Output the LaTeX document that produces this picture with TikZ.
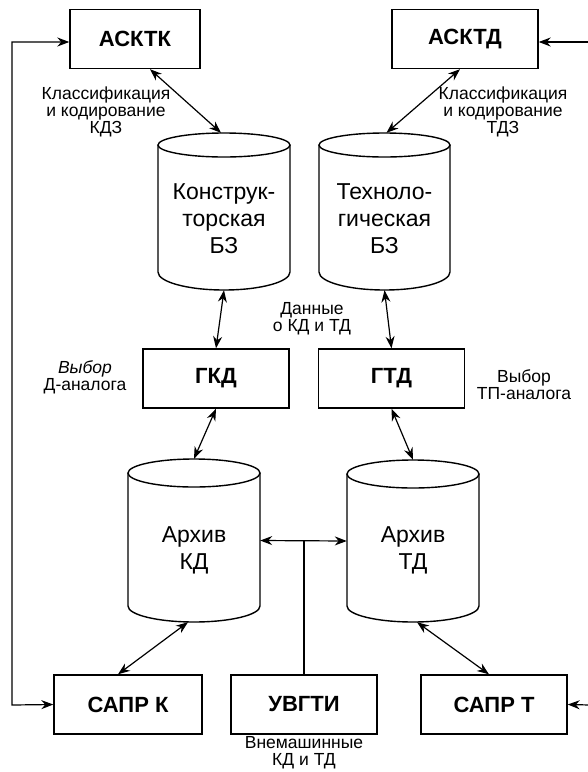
\documentclass[tikz,border=0pt]{standalone}
\usepackage{fontspec}
\setmainfont{Liberation Sans}
\usetikzlibrary{arrows.meta}

\begin{document}
\begin{tikzpicture}[x=1pt,y=-1pt,
  blk/.style={draw,line width=1.4pt,minimum width=146pt,minimum height=59pt,inner sep=0pt,font=\bfseries\fontsize{22}{24}\selectfont},
  rim/.style={line width=1.4pt},
  body/.style={inner sep=0pt,minimum width=132pt},
  dbtext/.style={align=center,inner sep=0pt,font=\fontsize{23}{27}\selectfont},
  note/.style={align=center,inner sep=0pt,font=\fontsize{17.5}{17}\selectfont},
  link/.style={{Stealth[length=12pt,width=9pt]}-{Stealth[length=12pt,width=9pt]},line width=1.2pt},
  feed/.style={-{Stealth[length=12pt,width=9pt]},line width=1.2pt}]
    \useasboundingbox (0,0) rectangle (588,772);

    % blocks
    \node[blk,minimum width=130pt] (asktk) at (135,39) {АСКТК};
    \node[blk] (asktd) at (465,39) {АСКТД};
    \node[blk] (gkd) at (216,378.5) {ГКД};
    \node[blk] (gtd) at (391.5,378.5) {ГТД};
    \node[blk,minimum width=148pt] (saprk) at (128,704.5) {САПР К};
    \node[blk] (uvgti) at (304,704.5) {УВГТИ};
    \node[blk] (saprt) at (494,704.5) {САПР Т};

    % data bases
    \draw[rim] (224,145) ellipse [x radius=66,y radius=12];
    \draw[rim] (158,145) -- (158,272) arc[start angle=180,end angle=0,x radius=66,y radius=18] -- (290,145);
    \node[body,minimum height=157pt] (kbz) at (224,211.5) {};
    \node[dbtext] (kbzt) at (224,219) {Конструк-\\торская\\БЗ};

    \draw[rim] (384.5,145) ellipse [x radius=65.5,y radius=12];
    \draw[rim] (319,145) -- (319,272) arc[start angle=180,end angle=0,x radius=65.5,y radius=18] -- (450,145);
    \node[body,minimum height=157pt] (tbz) at (384.5,211.5) {};
    \node[dbtext] (tbzt) at (384.5,219) {Техноло-\\гическая\\БЗ};

    \draw[rim] (194,473) ellipse [x radius=66,y radius=14];
    \draw[rim] (128,473) -- (128,606) arc[start angle=180,end angle=0,x radius=66,y radius=16] -- (260,473);
    \node[body,minimum height=163pt] (akd) at (194,540.5) {};
    \node[dbtext] (akdt) at (194,550) {Архив\\КД};

    \draw[rim] (413,474) ellipse [x radius=66,y radius=14];
    \draw[rim] (347,474) -- (347,606) arc[start angle=180,end angle=0,x radius=66,y radius=16] -- (479,474);
    \node[body,minimum height=162pt] (atd) at (413,541) {};
    \node[dbtext] (atdt) at (413,550) {Архив\\ТД};

    % labels
    \node[note] (klk) at (106,112) {Классификация\\и кодирование\\КДЗ};
    \node[note] (klt) at (503,112) {Классификация\\и кодирование\\ТДЗ};
    \node[note] (dan) at (312,319) {Данные\\о КД и ТД};
    \node[note] (vbd) at (85,377) {\textit{Выбор}\\Д-аналога};
    \node[note] (vbt) at (524,385) {Выбор\\ТП-аналога};
    \node[note] (vnm) at (304,753) {Внемашинные\\КД и ТД};

    % links
    \draw[link] ([xshift=15pt]asktk.south) -- ([xshift=-3pt]kbz.north);
    \draw[link] ([xshift=-5pt]asktd.south) -- ([xshift=2pt]tbz.north);
    \draw[link] (kbz.south) -- (gkd.north);
    \draw[link] (tbz.south) -- (gtd.north);
    \draw[link] (gkd.south) -- (akd.north);
    \draw[link] (gtd.south) -- (atd.north);
    \draw[link] ([xshift=-6pt]akd.south) -- ([xshift=-10pt]saprk.north);
    \draw[link] ([xshift=4pt]atd.south) -- ([xshift=-5pt]saprt.north);

    \coordinate (jn) at (305,541);
    \draw[link] (akd.east) -- (atd.west);
    \draw[line width=1.2pt] (uvgti.north) -- (uvgti.north |- jn);

    \coordinate (lt) at (12,42);
    \coordinate (lb) at (12,705);
    \draw[link] ([yshift=-3pt]asktk.west) -- (lt) -- (lb) -- (saprk.west);

    \coordinate (rt) at (590,42);
    \coordinate (rb) at (590,705);
    \draw[feed] (rt) -- ([yshift=-3pt]asktd.east);
    \draw[feed] (rb) -- (saprt.east);
\end{tikzpicture}
\end{document}
